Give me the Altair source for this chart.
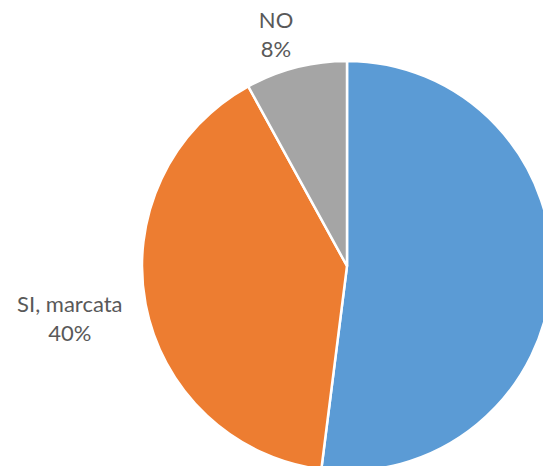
import altair as alt
import pandas as pd

categories = ["SI", "SI, marcata", "NO"]
values = [52, 40, 8]
labels = ["", "SI, marcata\n40%", "NO\n8%"]
colors = ["#5B9BD5", "#ED7D31", "#A5A5A5"]
label_radius = [250, 271, 241]

df = pd.DataFrame({
    "cat": categories,
    "value": values,
    "label": labels,
    "order": list(range(len(categories))),
    "lr": label_radius,
})

cx, cy = 339, 258
theta_scale = alt.Scale(domain=[0, 100])

pie = alt.Chart(df).mark_arc(radius=205, stroke="white", strokeWidth=2.5).encode(
    theta=alt.Theta("value:Q", stack=True, scale=theta_scale),
    order=alt.Order("order:Q"),
    color=alt.Color("cat:N", scale=alt.Scale(domain=categories, range=colors), legend=None),
    x=alt.value(cx), y=alt.value(cy),
)

text = alt.Chart(df).transform_window(
    cum="sum(value)", sort=[alt.SortField("order")]
).transform_calculate(
    mid="datum.cum - datum.value / 2"
).mark_text(
    font="Lato", fontSize=22, lineHeight=29.5, lineBreak="\n", color="#595959",
    dx=-11, dy=-12, baseline="middle", align="center"
).encode(
    theta=alt.Theta("mid:Q", stack=None, scale=theta_scale),
    radius=alt.Radius("lr:Q", scale=None),
    text="label:N",
    x=alt.value(cx), y=alt.value(cy),
)

chart = alt.layer(pie, text).properties(
    width=535, height=458, padding=0, autosize=alt.AutoSizeParams(type="none")
).configure_view(stroke=None)

chart.save("out.html", embed_options={"renderer": "svg", "actions": False})
